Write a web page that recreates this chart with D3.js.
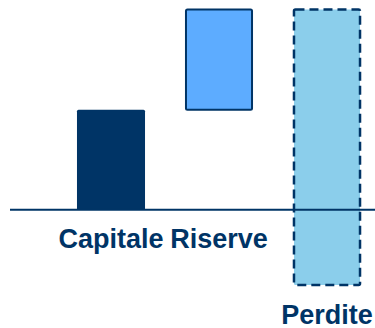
<!DOCTYPE html>
<html>
<head>
<meta charset="utf-8">
<script src="https://cdn.jsdelivr.net/npm/d3@7"></script>
<style>
  html, body { margin: 0; padding: 0; background: #ffffff; }
  svg { display: block; }
</style>
</head>
<body>
<svg id="chart" width="375" height="328"></svg>
<script>
// Waterfall steps: each bar starts where the previous one ended
const categories = ["Capitale", "Riserve", "Perdite"];
const deltas = [100, 100, -275];
const styles = ["solid", "outlined", "dashed"];

const svg = d3.select("#chart");
const navy = "#003466";

// Cumulative start/end of each step
let running = 0;
const steps = categories.map((name, i) => {
  const start = running;
  running += deltas[i];
  return { name, start, end: running, style: styles[i] };
});

const x = d3.scaleBand()
  .domain(categories)
  .range([57, 381])
  .paddingInner(0.37)
  .paddingOuter(0.185);

const y = d3.scaleLinear()
  .domain([-75, 200])
  .range([285, 9.5]);

const fills = { solid: navy, outlined: "#5dacff", dashed: "#8bceeb" };

const bars = svg.append("g");

bars.selectAll("rect")
  .data(steps)
  .join("rect")
  .attr("x", d => x(d.name) + (d.style === "solid" ? 0 : 1))
  .attr("width", d => x.bandwidth() - (d.style === "solid" ? 0 : 2))
  .attr("y", d => y(Math.max(d.start, d.end)))
  .attr("height", d => Math.abs(y(d.start) - y(d.end)))
  .attr("rx", 1.5)
  .attr("fill", d => fills[d.style])
  .attr("stroke", d => d.style === "solid" ? "none" : navy)
  .attr("stroke-width", d => d.style === "dashed" ? 2.5 : 2)
  .attr("stroke-dasharray", d => d.style === "dashed" ? "9,5" : null);

// Zero line
svg.append("line")
  .attr("x1", 10)
  .attr("x2", 375)
  .attr("y1", y(0))
  .attr("y2", y(0))
  .attr("stroke", navy)
  .attr("stroke-width", 2);

// Category labels below the lowest point of each bar
svg.append("g")
  .selectAll("text")
  .data(steps)
  .join("text")
  .attr("x", d => x(d.name) + x.bandwidth() / 2)
  .attr("y", d => Math.max(y(0), y(Math.min(d.start, d.end))) + 38.5)
  .attr("text-anchor", "middle")
  .attr("font-family", "'Liberation Sans', Arial, sans-serif")
  .attr("font-weight", "bold")
  .attr("font-size", 27)
  .attr("fill", navy)
  .text(d => d.name);
</script>
</body>
</html>
